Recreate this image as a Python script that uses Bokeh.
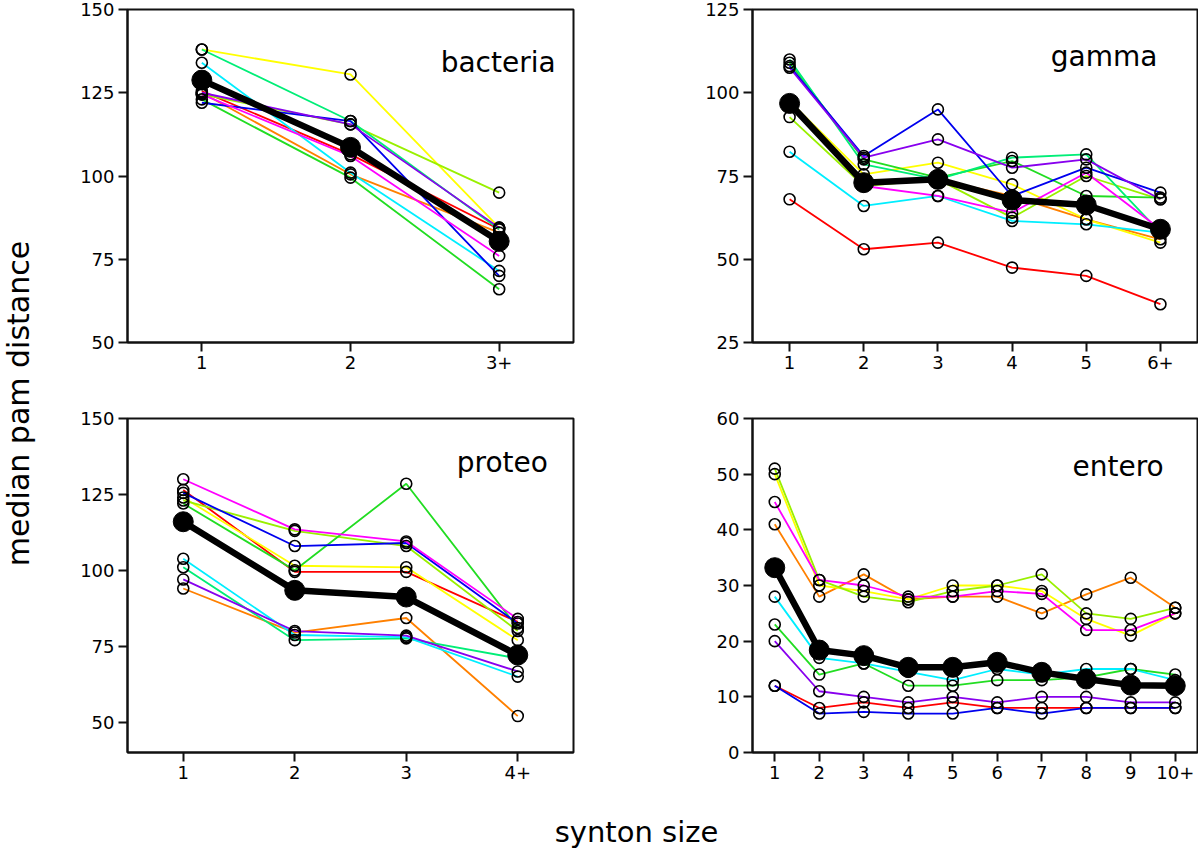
import math
from bokeh.plotting import figure
from bokeh.models import FixedTicker, Label, Range1d
from bokeh.layouts import row, column
from bokeh.core.properties import value
from bokeh.embed import file_html
from bokeh.resources import INLINE

# ---------------- data ----------------
bact_cats = ["1", "2", "3+"]
bact_series = {
    "red":         [125.5, 106.5, 84.0],
    "orange":      [125.0, 100.5, 83.0],
    "yellow":      [138.0, 130.5, 84.5],
    "chartreuse":  [124.5, 115.5, 95.0],
    "green":       [123.0, 99.5, 66.0],
    "springgreen": [138.0, 116.5, 84.0],
    "cyan":        [134.0, 101.0, 71.5],
    "blue":        [122.0, 116.5, 70.0],
    "purple":      [125.0, 115.5, 84.5],
    "magenta":     [124.5, 106.0, 76.0],
}
bact_mean = [128.8, 108.6, 80.4]

gamma_cats = ["1", "2", "3", "4", "5", "6+"]
gamma_series = {
    "red":         [68.0, 53.0, 55.0, 47.5, 45.0, 36.5],
    "orange":      [97.0, 73.5, 74.0, 69.0, 62.0, 56.0],
    "yellow":      [97.5, 75.5, 79.0, 72.5, 62.0, 55.0],
    "chartreuse":  [92.7, 72.0, 74.0, 62.5, 75.0, 68.0],
    "green":       [109.0, 80.0, 74.5, 79.5, 69.0, 68.5],
    "springgreen": [110.0, 78.5, 74.0, 80.5, 81.5, 58.0],
    "cyan":        [82.3, 66.0, 69.0, 61.5, 60.5, 58.0],
    "blue":        [108.0, 81.0, 95.0, 69.0, 77.5, 70.0],
    "purple":      [107.5, 80.5, 86.0, 77.5, 80.0, 68.0],
    "magenta":     [96.5, 72.0, 69.0, 64.0, 76.0, 59.0],
}
gamma_mean = [96.8, 73.0, 74.0, 67.8, 66.3, 59.0]

proteo_cats = ["1", "2", "3", "4+"]
proteo_series = {
    "red":         [126.5, 99.5, 99.5, 83.0],
    "orange":      [94.0, 79.5, 84.3, 52.0],
    "yellow":      [124.0, 101.5, 101.0, 77.0],
    "chartreuse":  [123.0, 113.0, 108.0, 80.0],
    "green":       [122.0, 100.0, 128.5, 81.0],
    "springgreen": [101.0, 77.0, 77.6, 71.0],
    "cyan":        [103.8, 78.7, 78.0, 65.0],
    "blue":        [125.5, 108.0, 109.0, 82.5],
    "purple":      [97.0, 80.0, 78.5, 66.7],
    "magenta":     [130.0, 113.5, 109.5, 84.0],
}
proteo_mean = [116.0, 93.4, 91.2, 72.1]

entero_cats = ["1", "2", "3", "4", "5", "6", "7", "8", "9", "10+"]
entero_series = {
    "red":        [12, 8, 9, 8, 9, 8, 8, 8, 8, 8],
    "orange":     [41, 28, 32, 27.5, 28, 28, 25, 28.4, 31.4, 26],
    "yellow":     [50, 30, 29, 27.5, 30, 30, 29, 24, 21, 25],
    "chartreuse": [51, 31, 28, 27, 29, 30, 32, 25, 24, 26],
    "green":      [23, 14, 16, 12, 12, 13, 13, 13.5, 15, 14],
    "cyan":       [28, 17, 16, 14.5, 13, 15, 14, 15, 15, 13],
    "blue":       [12, 7, 7.3, 7, 7, 8, 7, 8, 8, 8],
    "purple":     [20, 11, 10, 9, 10, 9, 10, 10, 9, 9],
    "magenta":    [45, 31, 30, 28, 28, 29, 28.5, 22, 22, 25],
}
entero_mean = [33.2, 18.4, 17.4, 15.3, 15.3, 16.2, 14.4, 13.2, 12.1, 12.0]

# ---------------- styles ----------------
COLORS = {
    "red": "#FF0000", "orange": "#FF8000", "yellow": "#FFFF00",
    "chartreuse": "#99F000", "green": "#22DD22", "springgreen": "#00EE77",
    "cyan": "#00EEFF", "blue": "#0000EE", "purple": "#8800EE", "magenta": "#FF00FF",
}
FONT = "DejaVu Sans"


def panel(cats, series, mean, yr, yticks, title, tx, ty, w, h, mbl, mbr, mbt, mbb):
    n = len(cats)
    xs = list(range(1, n + 1))
    p = figure(width=w, height=h, x_range=Range1d(0.5, n + 0.5), y_range=Range1d(*yr),
               output_backend="svg", toolbar_location=None,
               min_border_left=mbl, min_border_right=mbr,
               min_border_top=mbt, min_border_bottom=mbb)
    p.grid.visible = False
    p.outline_line_color = "#111111"
    p.outline_line_width = 2
    p.outline_line_alpha = 1.0
    for name, ys in series.items():
        p.line(xs, ys, line_color=COLORS[name], line_width=1.8)
    for name, ys in series.items():
        p.scatter(xs, ys, size=11, fill_alpha=0, line_color="black", line_width=1.6)
    p.line(xs, mean, line_color="black", line_width=6.5, line_join="round")
    p.scatter(xs, mean, size=20, fill_color="black", line_color="black")

    p.xaxis.ticker = FixedTicker(ticks=xs)
    p.xaxis.major_label_overrides = {i: c for i, c in zip(xs, cats)}
    p.yaxis.ticker = FixedTicker(ticks=yticks)
    for ax in (p.xaxis[0], p.yaxis[0]):
        ax.minor_tick_line_color = None
        ax.major_tick_in = 0
        ax.major_tick_out = 9
        ax.major_tick_line_width = 2
        ax.major_tick_line_color = "#111111"
        ax.axis_line_width = 2
        ax.axis_line_color = "#111111"
        ax.major_label_text_font = FONT
        ax.major_label_text_font_size = "18px"
        ax.major_label_text_color = "black"
        ax.major_label_standoff = 4
    p.add_layout(Label(x=tx, y=ty, text=title, text_align="right",
                       text_baseline="alphabetic", text_font=FONT,
                       text_font_size="28px", text_color="black"))
    return p


p1 = panel(bact_cats, bact_series, bact_mean, (50, 150), [50, 75, 100, 125, 150],
           "bacteria", 3.38, 134.0, 560, 408, 87, 27, 9, 66)
p2 = panel(gamma_cats, gamma_series, gamma_mean, (25, 125), [25, 50, 75, 100, 125],
           "gamma", 5.96, 111.0, 598, 408, 152, 1, 9, 66)
p3 = panel(proteo_cats, proteo_series, proteo_mean, (40, 150), [50, 75, 100, 125, 150],
           "proteo", 4.27, 135.4, 560, 392, 87, 27, 10, 48)
p4 = panel(entero_cats, entero_series, entero_mean, (0, 60), [0, 10, 20, 30, 40, 50, 60],
           "entero", 9.74, 51.3, 598, 392, 152, 1, 10, 48)

# overall axis titles
left = figure(width=40, height=854, x_range=Range1d(0, 40), y_range=Range1d(0, 854),
              x_axis_type=None, y_axis_type=None, output_backend="svg",
              toolbar_location=None, min_border=0)
left.grid.visible = False
left.outline_line_color = None
left.text(x=[18], y=[854 - 403], text=["median pam distance"], angle=math.pi / 2,
          text_align="center", text_baseline="middle",
          text_font=value(FONT), text_font_size="30px", text_color="black")

bottom = figure(width=1158, height=54, x_range=Range1d(0, 1158), y_range=Range1d(0, 54),
                x_axis_type=None, y_axis_type=None, output_backend="svg",
                toolbar_location=None, min_border=0)
bottom.grid.visible = False
bottom.outline_line_color = None
bottom.text(x=[636 - 40], y=[23], text=["synton size"], text_align="center",
            text_baseline="middle", text_font=value(FONT), text_font_size="29px",
            text_color="black")

layout = row(left, column(row(p1, p2), row(p3, p4), bottom))

open("out.html", "w").write(file_html(layout, INLINE))
